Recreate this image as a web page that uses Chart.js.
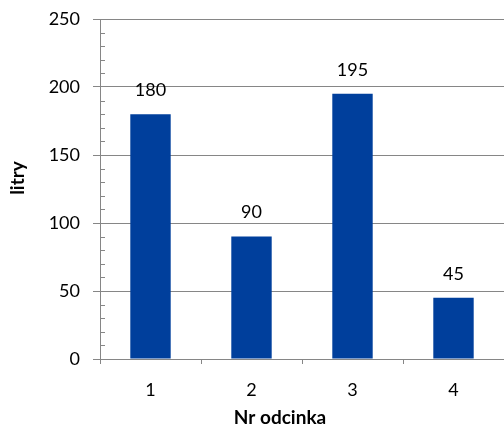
<!DOCTYPE html>
<html>
<head>
<meta charset="utf-8">
<script src="https://cdn.jsdelivr.net/npm/chart.js@4/dist/chart.umd.min.js"></script>
<style>
  html, body { margin: 0; padding: 0; background: #fff; }
  #wrap { width: 504px; height: 428px; }
</style>
</head>
<body>
<div id="wrap"><canvas id="c" width="504" height="428"></canvas></div>
<script>
// Segment numbers and volumes in litres
const odcinki = ['1', '2', '3', '4'];
const litry = [180, 90, 195, 45];

const yMin = 0;
const yMax = 250;
const yStep = 50;
const yMinorStep = 10;

const xTitle = 'Nr odcinka';
const yTitle = 'litry';

const FONT = 'Lato, "Liberation Sans", sans-serif';
const AXIS_GRAY = '#868686';

// Short minor tick marks on the inner side of the value axis
const minorTicks = {
  id: 'minorTicks',
  afterDraw(chart) {
    const y = chart.scales.y;
    const ctx = chart.ctx;
    ctx.save();
    ctx.strokeStyle = AXIS_GRAY;
    ctx.lineWidth = 1;
    for (let v = yMin + yMinorStep; v < yMax; v += yMinorStep) {
      if (v % yStep === 0) continue;
      const py = Math.round(y.getPixelForValue(v)) + 0.5;
      ctx.beginPath();
      ctx.moveTo(y.right, py);
      ctx.lineTo(y.right + 5, py);
      ctx.stroke();
    }
    ctx.restore();
  }
};

// Value labels above each bar
const valueLabels = {
  id: 'valueLabels',
  afterDatasetsDraw(chart) {
    const ctx = chart.ctx;
    const meta = chart.getDatasetMeta(0);
    ctx.save();
    ctx.font = '18px ' + FONT;
    ctx.fillStyle = '#000';
    ctx.textAlign = 'center';
    ctx.textBaseline = 'middle';
    meta.data.forEach((bar, i) => {
      ctx.fillText(String(litry[i]), bar.x, bar.y - 24);
    });
    ctx.restore();
  }
};

// Axis titles, placed by the chart area
const axisTitles = {
  id: 'axisTitles',
  afterDraw(chart) {
    const ctx = chart.ctx;
    const a = chart.chartArea;
    ctx.save();
    ctx.fillStyle = '#000';
    ctx.font = 'bold 19px ' + FONT;
    ctx.textAlign = 'center';
    ctx.textBaseline = 'middle';
    ctx.fillText(xTitle, (a.left + a.right) / 2 - 22, 418);
    ctx.translate(18, (a.top + a.bottom) / 2 - 11);
    ctx.rotate(-Math.PI / 2);
    ctx.fillText(yTitle, 0, 0);
    ctx.restore();
  }
};

new Chart(document.getElementById('c'), {
  type: 'bar',
  data: {
    labels: odcinki,
    datasets: [{
      data: litry,
      backgroundColor: '#003f9c',
      borderWidth: 0,
      categoryPercentage: 1,
      barPercentage: 0.4
    }]
  },
  options: {
    responsive: false,
    animation: false,
    layout: { padding: { top: 19, right: 0, left: 0, bottom: 0 } },
    plugins: {
      legend: { display: false },
      tooltip: { enabled: false }
    },
    scales: {
      x: {
        offset: true,
        grid: {
          offset: true,
          drawOnChartArea: false,
          color: AXIS_GRAY,
          tickLength: 5
        },
        border: { color: AXIS_GRAY, width: 1 },
        ticks: {
          color: '#000',
          font: { family: FONT, size: 18 },
          padding: 15
        },
        afterFit(scale) {
          scale.height = 69;
          scale.paddingLeft = 0;
          scale.paddingRight = 0;
        }
      },
      y: {
        min: yMin,
        max: yMax,
        ticks: {
          stepSize: yStep,
          color: '#000',
          font: { family: FONT, size: 18 },
          padding: 13
        },
        grid: {
          color: AXIS_GRAY,
          tickLength: 7
        },
        border: { color: AXIS_GRAY, width: 1 },
        afterFit(scale) {
          scale.width = 100;
          scale.paddingTop = 0;
          scale.paddingBottom = 0;
        }
      }
    }
  },
  plugins: [minorTicks, valueLabels, axisTitles]
});
</script>
</body>
</html>
